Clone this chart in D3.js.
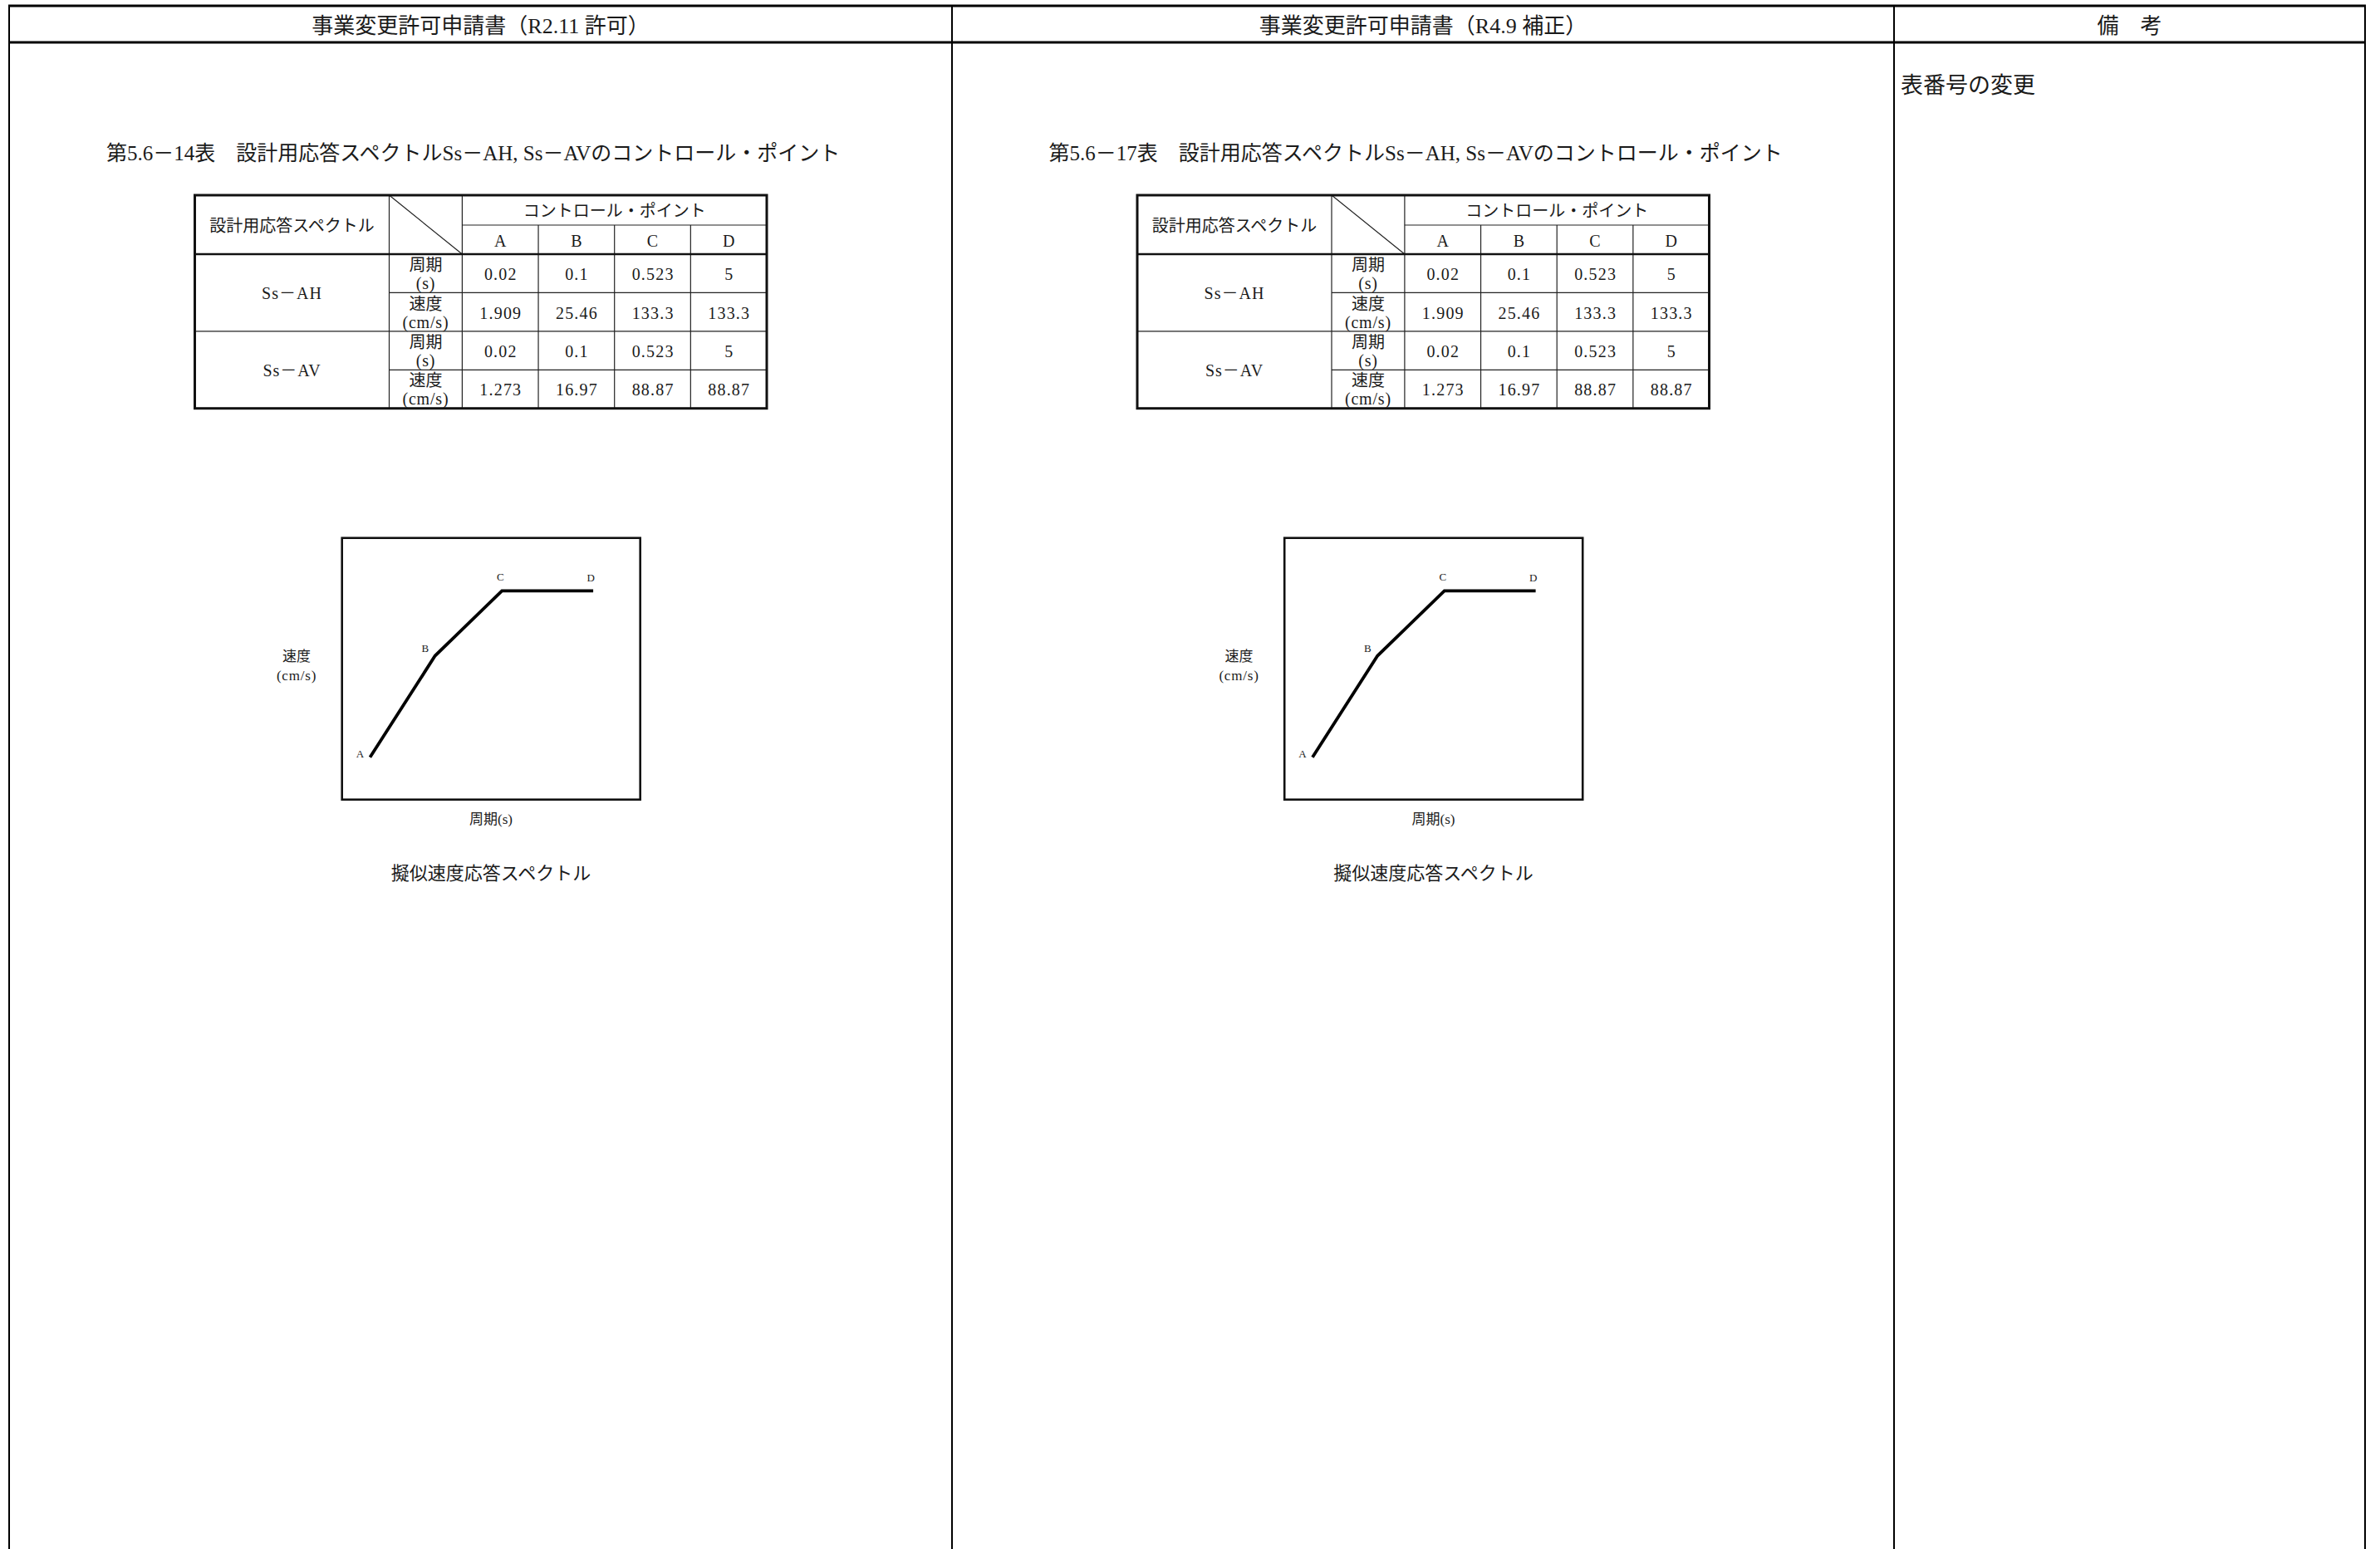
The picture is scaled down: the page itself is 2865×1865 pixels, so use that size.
<!DOCTYPE html>
<html>
<head>
<meta charset="utf-8">
<script src="https://cdn.jsdelivr.net/npm/d3@7"></script>
<style>
  html, body { margin: 0; padding: 0; background: #fff; }
  svg text { font-family: "Liberation Serif", "Noto Sans CJK JP", serif; fill: #1a1a1a; }
</style>
</head>
<body>
<svg id="page" width="2865" height="1865"></svg>
<script>
// ---------- data ----------
const pageHeaders = ["事業変更許可申請書（R2.11 許可）", "事業変更許可申請書（R4.9 補正）", "備　考"];
const remarks = ["表番号の変更"];
const tableTitles = [
  "第5.6－14表　設計用応答スペクトルSs－AH, Ss－AVのコントロール・ポイント",
  "第5.6－17表　設計用応答スペクトルSs－AH, Ss－AVのコントロール・ポイント"
];
const categories = ["A", "B", "C", "D"];
const spectra = ["Ss－AH", "Ss－AV"];
const periodAH = [0.02, 0.1, 0.523, 5];
const velocityAH = [1.909, 25.46, 133.3, 133.3];
const periodAV = [0.02, 0.1, 0.523, 5];
const velocityAV = [1.273, 16.97, 88.87, 88.87];
const rowKinds = [["周期", "(s)"], ["速度", "(cm/s)"]];
const headerLabels = { spectrum: "設計用応答スペクトル", points: "コントロール・ポイント" };
const chartLabels = { y: ["速度", "(cm/s)"], x: "周期(s)", caption: "擬似速度応答スペクトル" };

// ---------- layout ----------
const svg = d3.select("#page");
svg.append("rect").attr("width", 2865).attr("height", 1865).attr("fill", "#fff");

const pageTop = 7, headBottom = 51, pageBottom = 1865;
const colX = [11, 1146, 2280, 2847];
const panelOffset = 1134.5;

// page frame
const frame = svg.append("g").attr("stroke", "#000").attr("fill", "none");
colX.forEach(x => frame.append("line").attr("x1", x).attr("x2", x).attr("y1", pageTop).attr("y2", pageBottom).attr("stroke-width", 2));
[pageTop, headBottom].forEach(y => frame.append("line").attr("x1", colX[0] - 1).attr("x2", colX[3] + 1).attr("y1", y).attr("y2", y).attr("stroke-width", 3));

pageHeaders.forEach((t, i) => {
  svg.append("text").attr("x", (colX[i] + colX[i + 1]) / 2).attr("y", (pageTop + headBottom) / 2 + 2)
    .attr("text-anchor", "middle").attr("dominant-baseline", "central")
    .attr("font-size", 26).text(t);
});
svg.append("text").attr("x", colX[2] + 8).attr("y", 103).attr("dominant-baseline", "central")
  .attr("font-size", 27).text(remarks[0]);

// ---------- panels ----------
const rowsData = [];
spectra.forEach((s, si) => {
  const per = si === 0 ? periodAH : periodAV;
  const vel = si === 0 ? velocityAH : velocityAV;
  rowsData.push({ spec: s, kind: rowKinds[0], values: per, first: true });
  rowsData.push({ spec: s, kind: rowKinds[1], values: vel, first: false });
});

function drawPanel(pi) {
  const g = svg.append("g").attr("transform", `translate(${pi * panelOffset},0)`);

  // title
  g.append("text").attr("x", 128).attr("y", 184).attr("dominant-baseline", "central")
    .attr("font-size", 25).text(tableTitles[pi]);

  // table geometry
  const tLeft = 234.5, tRight = 923, specRight = 468.5, kindRight = 556.4;
  const tTop = 235, headMid = 271, headBottom2 = 306, tBottom = 491.7;
  const xCol = d3.scaleBand().domain(categories).range([kindRight, tRight]);
  const yRow = d3.scaleBand().domain(d3.range(rowsData.length)).range([headBottom2, tBottom]);

  const tg = g.append("g");
  const thin = tg.append("g").attr("stroke", "#222").attr("stroke-width", 1.2);
  thin.append("line").attr("x1", specRight).attr("x2", specRight).attr("y1", tTop).attr("y2", tBottom);
  thin.append("line").attr("x1", kindRight).attr("x2", kindRight).attr("y1", tTop).attr("y2", tBottom);
  categories.slice(1).forEach(c => thin.append("line").attr("x1", xCol(c)).attr("x2", xCol(c)).attr("y1", headMid).attr("y2", tBottom));
  thin.append("line").attr("x1", kindRight).attr("x2", tRight).attr("y1", headMid).attr("y2", headMid);
  rowsData.forEach((r, i) => {
    if (i === 0) return;
    const y = yRow(i);
    thin.append("line").attr("x1", r.first ? tLeft : specRight).attr("x2", tRight).attr("y1", y).attr("y2", y);
  });
  thin.append("line").attr("x1", specRight).attr("y1", tTop).attr("x2", kindRight).attr("y2", headBottom2);
  tg.append("line").attr("x1", tLeft).attr("x2", tRight).attr("y1", headBottom2).attr("y2", headBottom2)
    .attr("stroke", "#111").attr("stroke-width", 2.6);
  tg.append("rect").attr("x", tLeft).attr("y", tTop).attr("width", tRight - tLeft).attr("height", tBottom - tTop)
    .attr("fill", "none").attr("stroke", "#111").attr("stroke-width", 3);

  const fs = 20;
  tg.append("text").attr("x", (tLeft + specRight) / 2).attr("y", (tTop + headBottom2) / 2 + 1)
    .attr("text-anchor", "middle").attr("dominant-baseline", "central").attr("font-size", fs).text(headerLabels.spectrum);
  tg.append("text").attr("x", (kindRight + tRight) / 2).attr("y", (tTop + headMid) / 2 + 1)
    .attr("text-anchor", "middle").attr("dominant-baseline", "central").attr("font-size", fs).text(headerLabels.points);
  categories.forEach(c => tg.append("text").attr("x", xCol(c) + xCol.bandwidth() / 2).attr("y", (headMid + headBottom2) / 2 + 1)
    .attr("text-anchor", "middle").attr("dominant-baseline", "central").attr("font-size", fs).text(c));

  rowsData.forEach((r, i) => {
    const y0 = yRow(i), h = yRow.bandwidth();
    if (r.first) {
      tg.append("text").attr("x", (tLeft + specRight) / 2).attr("y", y0 + h + 1)
        .attr("text-anchor", "middle").attr("dominant-baseline", "central").attr("font-size", fs)
        .attr("letter-spacing", 1).text(r.spec);
    }
    const kx = (specRight + kindRight) / 2;
    tg.append("text").attr("x", kx).attr("y", y0 + h / 2 - 10).attr("text-anchor", "middle")
      .attr("dominant-baseline", "central").attr("font-size", fs).text(r.kind[0]);
    tg.append("text").attr("x", kx).attr("y", y0 + h / 2 + 12).attr("text-anchor", "middle")
      .attr("dominant-baseline", "central").attr("font-size", fs).attr("letter-spacing", 0.8).text(r.kind[1]);
    r.values.forEach((v, j) => {
      tg.append("text").attr("x", xCol(categories[j]) + xCol.bandwidth() / 2 + 0.6).attr("y", y0 + h / 2 + 1)
        .attr("text-anchor", "middle").attr("dominant-baseline", "central").attr("font-size", fs)
        .attr("letter-spacing", 1.2).text(String(v));
    });
  });

  // ---------- schematic chart ----------
  const bx0 = 411.7, bx1 = 770.7, by0 = 647.7, by1 = 962.7;
  const x = d3.scaleLog().domain([0.01, 16]).range([bx0, bx1]);
  const y = d3.scaleLog().domain([0.65, 514]).range([by1, by0]);
  const cg = g.append("g");
  cg.append("rect").attr("x", bx0).attr("y", by0).attr("width", bx1 - bx0).attr("height", by1 - by0)
    .attr("fill", "none").attr("stroke", "#111").attr("stroke-width", 2.6);
  const pts = periodAH.map((p, i) => ({ p, v: velocityAH[i], c: categories[i] }));
  cg.append("path").datum(pts)
    .attr("d", d3.line().x(d => x(d.p)).y(d => y(d.v)))
    .attr("fill", "none").attr("stroke", "#000").attr("stroke-width", 3.8).attr("stroke-linejoin", "miter");
  const off = { A: [-12, -4], B: [-12, -9], C: [-2, -17], D: [-3, -16] };
  cg.selectAll("text.pt").data(pts).join("text").attr("class", "pt")
    .attr("x", d => x(d.p) + off[d.c][0]).attr("y", d => y(d.v) + off[d.c][1])
    .attr("text-anchor", "middle").attr("dominant-baseline", "central").attr("font-size", 13).text(d => d.c);

  cg.append("text").attr("x", 357).attr("y", 790).attr("text-anchor", "middle").attr("dominant-baseline", "central")
    .attr("font-size", 17).text(chartLabels.y[0]);
  cg.append("text").attr("x", 357).attr("y", 813).attr("text-anchor", "middle").attr("dominant-baseline", "central")
    .attr("font-size", 17).attr("letter-spacing", 0.8).text(chartLabels.y[1]);
  cg.append("text").attr("x", 591).attr("y", 986).attr("text-anchor", "middle").attr("dominant-baseline", "central")
    .attr("font-size", 17).text(chartLabels.x);
  cg.append("text").attr("x", 591).attr("y", 1051).attr("text-anchor", "middle").attr("dominant-baseline", "central")
    .attr("font-size", 22).text(chartLabels.caption);
}
drawPanel(0);
drawPanel(1);
</script>
</body>
</html>
